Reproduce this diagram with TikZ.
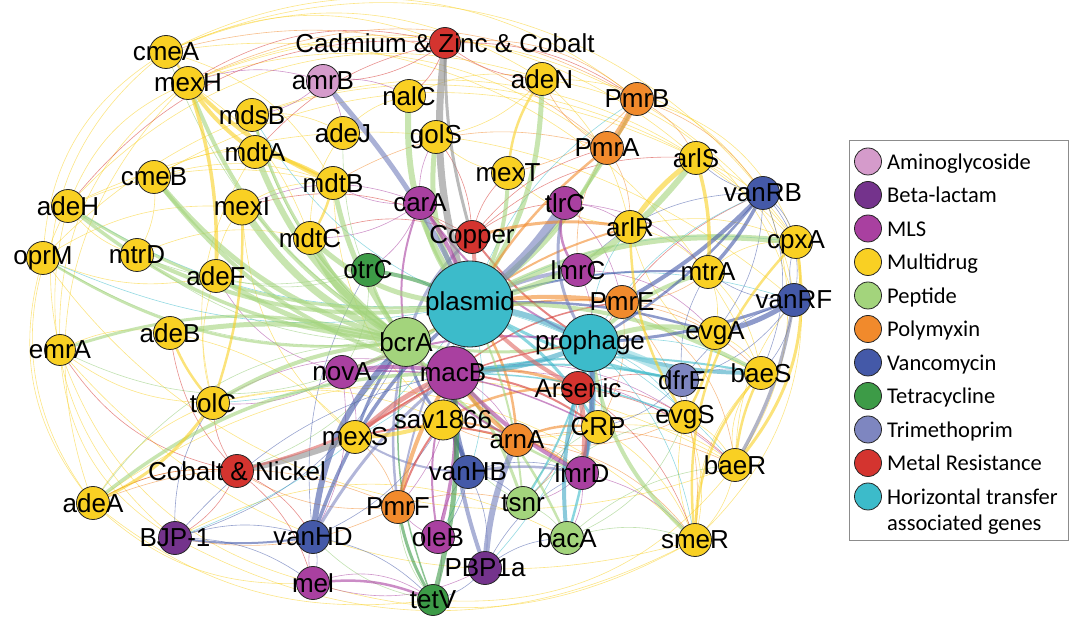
\documentclass[tikz,border=0pt]{standalone}
\usepackage{fontspec}
\setmainfont{Liberation Sans}
\newfontfamily\keyfont{Carlito}

\definecolor{amino}{HTML}{D59BCB}
\definecolor{beta}{HTML}{74338C}
\definecolor{mls}{HTML}{A940A0}
\definecolor{mdr}{HTML}{F9D023}
\definecolor{pep}{HTML}{A3D47C}
\definecolor{poly}{HTML}{F18A2C}
\definecolor{vanco}{HTML}{4459A8}
\definecolor{tetra}{HTML}{3D9B47}
\definecolor{trim}{HTML}{7E86C0}
\definecolor{metal}{HTML}{D4342F}
\definecolor{hgt}{HTML}{3CBBCA}

\tikzstyle{gene}=[circle,draw=black!85,line width=0.8pt,minimum size=33pt,inner sep=0pt]
\tikzstyle{lbl}=[font=\fontsize{26}{26}\selectfont,inner sep=0pt]
\tikzstyle{link}=[line cap=round,opacity=0.6]
\tikzstyle{wire}=[line width=0.6pt,opacity=0.55]
\tikzstyle{key}=[circle,draw=black!85,line width=0.8pt,minimum size=27pt,inner sep=0pt]
\tikzstyle{keytext}=[font=\keyfont\fontsize{22.5}{24}\selectfont,anchor=base west,inner sep=0pt]

\pgfdeclarelayer{edges}
\pgfsetlayers{edges,main}

\begin{document}
\begin{tikzpicture}[x=1pt,y=-1pt]
\useasboundingbox (0,0) rectangle (1072,617);

% genes
\node[gene,fill=mdr] (cmeA) at (166,52) {};
\node[gene,fill=mdr] (mexH) at (188,83) {};
\node[gene,fill=amino] (amrB) at (323,81) {};
\node[gene,fill=mdr] (mdsB) at (252,115) {};
\node[gene,fill=mdr] (adeJ) at (343,133) {};
\node[gene,fill=mdr] (mdtA) at (255,152) {};
\node[gene,fill=mdr] (cmeB) at (154,177) {};
\node[gene,fill=mdr] (mdtB) at (333,183) {};
\node[gene,fill=mdr] (adeH) at (68,206) {};
\node[gene,fill=mdr,minimum size=36pt] (mexI) at (242,207) {};
\node[gene,fill=mdr] (mdtC) at (310,238) {};
\node[gene,fill=mdr] (oprM) at (43,258) {};
\node[gene,fill=mdr] (mtrD) at (137,255) {};
\node[gene,fill=mdr] (adeF) at (216,276) {};
\node[gene,fill=tetra] (otrC) at (368,270) {};
\node[gene,fill=mdr] (nalC) at (409,96) {};
\node[gene,fill=metal,minimum size=31pt] (cdzn) at (445,43) {};
\node[gene,fill=mdr] (adeN) at (542,79) {};
\node[gene,fill=poly] (PmrB) at (637,99) {};
\node[gene,fill=mdr] (golS) at (436,137) {};
\node[gene,fill=poly] (PmrA) at (607,148) {};
\node[gene,fill=mdr] (arlS) at (696,158) {};
\node[gene,fill=mdr] (mexT) at (508,173) {};
\node[gene,fill=vanco] (vanRB) at (763,193) {};
\node[gene,fill=mls] (carA) at (420,203) {};
\node[gene,fill=mls] (tlrC) at (565,203) {};
\node[gene,fill=mdr] (arlR) at (630,227) {};
\node[gene,fill=metal] (Copper) at (472,237) {};
\node[gene,fill=mdr] (cpxA) at (796,242) {};
\node[gene,fill=mls] (lmrC) at (578,270) {};
\node[gene,fill=mdr] (mtrA) at (708,272) {};
\node[gene,fill=vanco] (vanRF) at (794,300) {};
\node[gene,fill=poly] (PmrE) at (622,302) {};
\node[gene,fill=hgt,minimum size=86pt] (plasmid) at (470,304) {};
\node[gene,fill=pep,minimum size=49pt] (bcrA) at (406,342) {};
\node[gene,fill=mls,minimum size=53pt] (macB) at (453,373) {};
\node[gene,fill=hgt,minimum size=57pt] (prophage) at (590,343) {};
\node[gene,fill=metal] (Arsenic) at (578,388) {};
\node[gene,fill=mls] (novA) at (342,372) {};
\node[gene,fill=mdr,minimum size=40pt] (sav1866) at (443,420) {};
\node[gene,fill=mdr] (CRP) at (598,427) {};
\node[gene,fill=mdr] (evgA) at (715,333) {};
\node[gene,fill=trim] (dfrE) at (682,380) {};
\node[gene,fill=mdr] (baeS) at (761,373) {};
\node[gene,fill=mdr] (evgS) at (685,417) {};
\node[gene,fill=poly] (arnA) at (517,440) {};
\node[gene,fill=vanco] (vanHB) at (468,472) {};
\node[gene,fill=mls] (lmrD) at (582,473) {};
\node[gene,fill=mdr] (baeR) at (735,465) {};
\node[gene,fill=pep] (tsnr) at (523,503) {};
\node[gene,fill=pep] (bacA) at (567,538) {};
\node[gene,fill=mdr] (smeR) at (695,540) {};
\node[gene,fill=mls] (oleB) at (438,537) {};
\node[gene,fill=beta] (PBP1a) at (485,568) {};
\node[gene,fill=tetra,minimum size=31pt] (tetV) at (433,600) {};
\node[gene,fill=poly] (PmrF) at (398,507) {};
\node[gene,fill=mdr,minimum size=31pt] (emrA) at (60,350) {};
\node[gene,fill=mdr] (adeB) at (170,333) {};
\node[gene,fill=mdr] (tolC) at (213,403) {};
\node[gene,fill=mdr] (mexS) at (355,437) {};
\node[gene,fill=metal] (coni) at (237,471) {};
\node[gene,fill=mdr] (adeA) at (93,503) {};
\node[gene,fill=beta] (BJP-1) at (175,538) {};
\node[gene,fill=vanco] (vanHD) at (313,537) {};
\node[gene,fill=mls] (mel) at (313,583) {};

% labels on top
\foreach \n in {cmeA,mexH,amrB,mdsB,adeJ,mdtA,cmeB,mdtB,adeH,mexI,mdtC,oprM,mtrD,adeF,otrC,nalC,
  adeN,PmrB,golS,PmrA,arlS,mexT,vanRB,carA,tlrC,arlR,Copper,cpxA,lmrC,mtrA,vanRF,PmrE,plasmid,
  bcrA,macB,prophage,Arsenic,novA,sav1866,CRP,evgA,dfrE,baeS,evgS,arnA,vanHB,lmrD,baeR,tsnr,
  bacA,smeR,oleB,PBP1a,tetV,PmrF,emrA,adeB,tolC,mexS,adeA,BJP-1,vanHD,mel}
  \node[lbl] (\n-t) at (\n) {\n};
\node[lbl] (cdzn-t) at (cdzn) {Cadmium \& Zinc \& Cobalt};
\node[lbl] (coni-t) at (coni) {Cobalt \& Nickel};

\begin{pgfonlayer}{edges}
% thin links
\foreach \s/\t/\b [evaluate=\b as \bb using {(\b>0)?(\b+8):(\b-8)}] in {cmeA/vanRB/30,cmeA/PmrB/25,mexH/arlS/25,mexH/cpxA/30,adeH/adeN/25,oprM/cmeA/20,
  emrA/mexH/20,adeA/oprM/20,adeA/adeH/25,BJP-1/emrA/20,mel/adeA/15,smeR/mel/15,smeR/BJP-1/20,
  baeR/tetV/20,cpxA/smeR/20,vanRB/baeR/20,arlS/vanRF/20,PmrB/cpxA/20,adeN/vanRB/20,cmeA/cdzn/15,
  adeH/mdtB/10,oprM/mexI/10,mtrD/mdtC/10,mtrD/cmeB/-10,adeF/mexI/10,adeF/tolC/-10,tolC/sav1866/10,
  adeB/mexS/10,emrA/tolC/-10,adeA/tolC/10,adeA/coni/10,mdsB/adeJ/10,mdsB/mdtA/20,cmeB/mdtA/10,
  cmeB/mdtB/10,adeJ/nalC/10,nalC/adeN/10,golS/mexT/-10,adeN/arlR/10,mexT/arlR/-10,arlS/cpxA/10,
  arlR/mtrA/10,mtrA/evgA/10,mtrA/baeS/10,cpxA/vanRF/10,evgA/baeS/10,evgS/baeR/10,baeS/baeR/-20,
  baeR/smeR/10,smeR/evgS/10,CRP/evgS/10,CRP/smeR/10,sav1866/CRP/-10,adeN/golS/10,mexH/mdtC/10,
  cmeA/mdtB/15,mexI/mdtB/10,mdtC/adeJ/10,adeH/mexH/15,oprM/adeF/-10,emrA/adeB/10,mtrD/adeH/10,
  arlR/cpxA/10,baeS/smeR/-15,vanRF/baeR/-10,emrA/smeR/-25,oprM/baeR/-30,adeH/vanRF/25,cmeB/arlS/20,
  oprM/arlS/30,emrA/cmeA/25,adeA/mexH/25,BJP-1/adeH/25,mel/emrA/20,tetV/adeA/15,bacA/BJP-1/-20,
  smeR/tolC/-20,baeR/adeA/-25,baeS/cmeA/-30,cpxA/mdsB/-25,vanRF/adeN/-25,cmeA/adeN/20,mexH/PmrA/20,
  mdtA/tolC/-15,mdtB/sav1866/-15,mexI/mexS/-15,CRP/baeR/15,evgS/smeR/10,mtrA/cpxA/15,arlR/baeS/-20}
  \draw[wire,mdr,bend left=\bb] (\s.center) to (\t.center);
\foreach \s/\t/\b [evaluate=\b as \bb using {(\b>0)?(\b+8):(\b-8)}] in {PmrB/arlS/10,PmrB/mexT/10,PmrA/arlR/10,PmrA/lmrC/-10,PmrE/evgA/10,PmrE/baeS/10,
  arnA/CRP/10,arnA/lmrD/10,PmrF/coni/10,PmrF/BJP-1/10,arnA/evgS/-10,PmrE/CRP/10,PmrA/adeN/10,
  PmrB/vanRB/10,PmrF/tsnr/10,arnA/sav1866/10,PmrE/mtrA/-10,PmrB/cdzn/-15,arnA/baeR/10,PmrF/mexS/-10,
  PmrE/smeR/15,PmrA/cmeA/-20,PmrF/adeA/-15,arnA/smeR/15,PmrE/baeR/20,PmrA/mdtB/-15,PmrB/mexH/-20}
  \draw[wire,poly,bend left=\bb] (\s.center) to (\t.center);
\foreach \s/\t/\b [evaluate=\b as \bb using {(\b>0)?(\b+8):(\b-8)}] in {cdzn/amrB/10,cdzn/nalC/10,cdzn/adeN/-10,cdzn/mexH/-15,cdzn/PmrB/10,Copper/tlrC/10,
  Copper/carA/10,Copper/mexT/10,Copper/PmrA/10,Arsenic/CRP/10,Arsenic/evgS/10,Arsenic/dfrE/10,
  coni/tolC/10,coni/vanHD/10,coni/mel/10,coni/adeA/-10,coni/BJP-1/10,Arsenic/smeR/10,Copper/golS/-10,
  Arsenic/baeR/10,coni/adeB/10,cdzn/mdtA/-10,cdzn/adeH/-20,Arsenic/vanRB/15,Copper/mdtC/-15,
  Copper/mexI/-15,Arsenic/tsnr/15,coni/emrA/15,Copper/arlS/15}
  \draw[wire,metal,bend left=\bb] (\s.center) to (\t.center);
\foreach \s/\t/\b [evaluate=\b as \bb using {(\b>0)?(\b+8):(\b-8)}] in {carA/mdtB/10,carA/otrC/10,tlrC/PmrE/10,lmrC/prophage/10,novA/tolC/10,novA/mexS/10,
  macB/PmrF/10,oleB/tetV/10,oleB/vanHB/10,mel/tetV/20,mel/vanHD/10,lmrD/tsnr/10,lmrD/bacA/10,
  carA/mdtC/10,tlrC/arlR/10,novA/vanHD/10,lmrD/CRP/10,macB/arnA/10,carA/golS/10,mel/PBP1a/-15,
  oleB/PmrF/10,amrB/nalC/10,amrB/mdsB/10,amrB/mexH/-10,amrB/adeJ/10,lmrD/smeR/10,macB/baeR/15,
  macB/evgS/15,macB/tolC/-15,novA/adeF/15,carA/mexI/-15,tlrC/mtrA/15,lmrC/evgA/15}
  \draw[wire,mls,bend left=\bb] (\s.center) to (\t.center);
\foreach \s/\t/\b [evaluate=\b as \bb using {(\b>0)?(\b+8):(\b-8)}] in {vanRB/cpxA/10,vanRB/vanRF/20,vanRB/evgA/10,vanRB/baeS/15,vanRF/baeS/10,
  vanRF/mtrA/10,vanHD/BJP-1/-10,vanHD/mel/10,vanHB/tsnr/10,vanHB/lmrD/10,vanHD/otrC/10,vanHB/oleB/10,
  vanRB/arlS/10,vanRF/cpxA/10,vanHD/tetV/10,vanHB/PBP1a/10,BJP-1/mel/10,BJP-1/tolC/10,PBP1a/tetV/10,
  PBP1a/lmrD/10,BJP-1/macB/10,PBP1a/bacA/10,dfrE/evgS/10,dfrE/baeS/10,dfrE/mtrA/10,dfrE/vanRF/10,
  dfrE/CRP/10,vanRB/lmrC/-15,vanRF/dfrE/10,vanHD/sav1866/-10,BJP-1/bcrA/-15}
  \draw[wire,vanco,bend left=\bb] (\s.center) to (\t.center);
\foreach \s/\t/\b [evaluate=\b as \bb using {(\b>0)?(\b+8):(\b-8)}] in {tsnr/bacA/10,bacA/smeR/10,tsnr/sav1866/10,bcrA/coni/10,bcrA/oprM/10,bcrA/mtrD/10,
  bcrA/cmeA/10,bcrA/mdsB/10,bcrA/adeJ/10,bacA/baeR/10,tsnr/evgS/10,otrC/mtrD/10,otrC/adeF/10,
  tetV/vanHD/10,tetV/PmrF/10,otrC/novA/10,bcrA/emrA/20,bcrA/adeA/-20,tsnr/CRP/10,bacA/evgS/-15}
  \draw[wire,pep!80!tetra,bend left=\bb] (\s.center) to (\t.center);
\foreach \s/\t/\b [evaluate=\b as \bb using {(\b>0)?(\b+8):(\b-8)}] in {plasmid/oprM/10,plasmid/adeH/10,plasmid/cpxA/10,plasmid/baeR/10,prophage/smeR/10,
  prophage/baeS/10,prophage/vanRB/10,plasmid/mdsB/10,plasmid/tolC/10,plasmid/BJP-1/10,prophage/evgS/10,
  plasmid/vanRF/10,prophage/CRP/10,prophage/arlR/10,plasmid/PmrB/10,plasmid/mexS/15,plasmid/oleB/15,
  prophage/tsnr/15,prophage/PBP1a/10}
  \draw[wire,hgt,bend left=\bb] (\s.center) to (\t.center);

% medium links round the hub
\foreach \s/\t/\c/\w/\b in {macB/CRP/metal/2/15,macB/Arsenic/poly/3/15,bcrA/Copper/trim/3/15,
  bcrA/carA/mls/2/15,plasmid/lmrC/trim/4/10,macB/evgS/hgt/1.5/10,plasmid/dfrE/hgt/3/-10,
  bcrA/PmrE/poly/2/15,macB/PmrE/metal/1.5/15,sav1866/Arsenic/poly/2.5/15,mexS/arnA/metal/2/15,
  novA/prophage/mls/2/15,bcrA/sav1866/vanco/3/-15,bcrA/mexS/vanco/3/-10,macB/tsnr/pep/3/10,
  macB/bacA/pep/2.5/10,prophage/bacA/hgt/2.5/10,prophage/tsnr/hgt/2/10,macB/vanHD/trim/3/-10,
  bcrA/PmrF/trim/2.5/-10,plasmid/evgA/vanco/2.5/10,plasmid/mtrA/vanco/2/10,plasmid/arlR/poly/2/10,
  carA/prophage/mls/2/-15,Copper/prophage/metal/2/-10,macB/baeS/hgt/2/10,bcrA/lmrD/pep/2.5/-15,
  plasmid/CRP/hgt/3/15,plasmid/arnA/poly/2.5/15,novA/plasmid/pep/4/-10,bcrA/otrC/pep/3/10,
  macB/sav1866/pep/4/10,prophage/Arsenic/hgt/4/10,bcrA/prophage/pep/3/-10,macB/dfrE/hgt/2/10,
  sav1866/lmrD/poly/2/15,mexS/prophage/metal/1.5/15,novA/CRP/mls/1.5/15,bcrA/arnA/mls/2/-15,
  plasmid/tsnr/pep/2/10,plasmid/PmrF/trim/2/-10,mexS/vanHB/trim/2/-15,sav1866/PmrF/metal/2/-10,
  macB/oleB/mls/2/-15,bcrA/tetV/tetra/1.5/-15,vanHB/lmrD/trim/2.5/10,arnA/CRP/poly/2/15}
  \draw[link,color=\c,line width=\w pt,bend left=\b] (\s.center) to (\t.center);

% heavy links
\foreach \s/\t/\w/\b [evaluate=\b as \bb using {(\b>0)?(\b+5):(\b-5)}] in {bcrA/mdtC/9/12,bcrA/mexI/7/12,bcrA/cmeB/5/12,bcrA/mexH/4/14,bcrA/mdtA/6/12,
  bcrA/mdtB/5/8,bcrA/adeH/3.5/12,bcrA/adeB/5/-6,bcrA/emrA/3/-12,bcrA/tolC/4/-8,bcrA/adeF/5/8,
  macB/adeA/3.5/-14,plasmid/adeN/5/-12,plasmid/golS/5/14,plasmid/nalC/6/15,plasmid/mexT/4/-10,
  plasmid/PmrA/4/-10,plasmid/arlS/6/-15,plasmid/cpxA/6/12,prophage/mtrA/4/10,prophage/evgA/5/12,
  prophage/smeR/4/-15,plasmid/baeS/4/10,bcrA/mdsB/3/12,plasmid/PmrB/3/-8,macB/cmeB/4/14,
  plasmid/mtrD/4/12,plasmid/adeH/3/14,bcrA/oprM/2.5/14,plasmid/carA/4/10,plasmid/mdtC/5/15}
  \draw[link,pep,line width=\w pt,bend left=\bb] (\s.center) to (\t.center);
\foreach \s/\t/\w/\b in {plasmid/prophage/6/10,plasmid/macB/5/10,prophage/lmrD/5/10,bacA/Arsenic/4/10,
  prophage/baeS/4/-10,macB/prophage/5/-10}
  \draw[link,hgt!80!vanco,line width=\w pt,bend left=\b] (\s.center) to (\t.center);
\draw[link,hgt!60,line width=8pt,bend left=8] (prophage.center) to (dfrE.center);
\foreach \s/\t/\w/\b in {vanRB/mtrA/3.5/8,vanRB/PmrE/4/8,vanRB/prophage/2.5/10,vanRF/evgA/5/10,
  vanHD/bcrA/6/20,vanHD/plasmid/3.5/15,vanHB/macB/5/10,sav1866/vanHB/4/10,BJP-1/vanHD/2/-8,
  vanRF/prophage/3/8}
  \draw[link,vanco,line width=\w pt,bend left=\b] (\s.center) to (\t.center);
\foreach \s/\t/\w/\b in {tlrC/plasmid/9/10,amrB/plasmid/5/8,PBP1a/arnA/6/10,PBP1a/macB/4/10,
  tlrC/prophage/3/-25,lmrD/prophage/5/-8}
  \draw[link,trim!80!vanco,line width=\w pt,bend left=\b] (\s.center) to (\t.center);
\draw[link,trim!50!gray,line width=3.5pt,bend left=10] (vanRF.center) to (baeR.center);
\draw[link,black!45,line width=7pt,bend left=-12] (cdzn.center) to (plasmid.center);
\draw[link,black!45,line width=6pt,bend left=-5] (coni.center) to (mexS.center);
\draw[link,black!45,line width=3pt,bend left=-8] (cdzn.center) to (Copper.center);
\foreach \s/\t/\w/\b in {PmrB/PmrA/6/5,PmrA/plasmid/2.5/-10,Copper/arlR/3/12,arnA/macB/4/10,
  PmrF/macB/4/10,PmrE/plasmid/4/-8}
  \draw[link,poly,line width=\w pt,bend left=\b] (\s.center) to (\t.center);
\foreach \s/\t/\w/\b in {arlS/arlR/5/-10,arlS/mtrA/3.5/10,mexH/mdtB/4/-10,mexH/mdtA/4/-10,mdtA/mdtB/3.5/10,
  adeN/mexT/2.5/-15,tolC/adeB/2.5/10,adeA/tolC/3/-15,cpxA/baeR/3/25,baeS/baeR/2.5/-10,smeR/baeS/2.5/20,
  smeR/cpxA/2.5/25,mdtB/mdtC/2.5/10,cmeA/mexH/2.5/10,sav1866/mexS/4/10,evgA/evgS/2.5/10,arlR/evgS/2.5/-15,
  mexH/adeF/3.5/10,tolC/mexI/2.5/-10}
  \draw[link,mdr,line width=\w pt,bend left=\b] (\s.center) to (\t.center);
\foreach \s/\t/\w/\b in {Arsenic/lmrD/5/10,macB/mexS/5/-10,Arsenic/plasmid/4/10,Copper/plasmid/4/10,
  coni/macB/2.5/-10}
  \draw[link,metal!75,line width=\w pt,bend left=\b] (\s.center) to (\t.center);
\foreach \s/\t/\w/\b in {tlrC/lmrC/2.5/-30,macB/oleB/3.5/10,mel/tetV/2.5/15,lmrD/macB/4/10,
  carA/plasmid/4/10,novA/macB/4/10}
  \draw[link,mls,line width=\w pt,bend left=\b] (\s.center) to (\t.center);
\foreach \s/\t/\w/\b in {tetV/macB/5/-10,otrC/plasmid/4/10,tetV/PmrF/3/10}
  \draw[link,tetra,line width=\w pt,bend left=\b] (\s.center) to (\t.center);
\end{pgfonlayer}

% legend
\draw[black!45,line width=0.8pt] (849,140) rectangle (1068,540);
\foreach \c/\t [count=\i] in {amino/Aminoglycoside,beta/Beta-lactam,mls/MLS,mdr/Multidrug,pep/Peptide,
  poly/Polymyxin,vanco/Vancomycin,tetra/Tetracycline,trim/Trimethoprim,metal/Metal Resistance,
  hgt/Horizontal transfer}
{
  \node[key,fill=\c] (key\i) at (868,128+33.5*\i) {};
  \node[keytext] (key\i-t) at (887,136+33.5*\i) {\t};
}
\node[keytext] (key12-t) at (887,531) {associated genes};
\end{tikzpicture}
\end{document}
